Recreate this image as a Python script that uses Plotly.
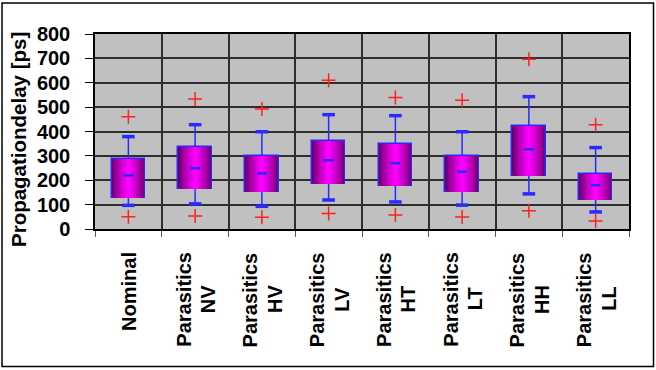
import plotly.graph_objects as go

categories = ["Nominal", "Parasitics<br>NV", "Parasitics<br>HV", "Parasitics<br>LV",
              "Parasitics<br>HT", "Parasitics<br>LT", "Parasitics<br>HH", "Parasitics<br>LL"]
q1 = [127, 164, 152, 186, 178, 152, 219, 119]
median = [220, 249, 228, 282, 270, 235, 327, 180]
q3 = [288, 336, 300, 361, 349, 300, 422, 226]
whisker_lo = [97, 103, 93, 119, 111, 98, 144, 70]
whisker_hi = [379, 428, 399, 469, 465, 399, 543, 334]
outlier_lo = [50, 53, 48, 64, 57, 49, 75, 33]
outlier_hi = [461, 533, 492, 610, 539, 528, 696, 428]
y_title = "Propagationdelay [ps]"

BLUE = "#2a2aff"
FONT = "Liberation Sans, Arial"
fig = go.Figure()

# whisker lines
wx, wy = [], []
for c, lo, a, b, hi in zip(categories, whisker_lo, q1, q3, whisker_hi):
    wx += [c, c, None, c, c, None]
    wy += [lo, a, None, b, hi, None]
fig.add_trace(go.Scatter(x=wx, y=wy, mode="lines", line=dict(color=BLUE, width=1.5),
                         hoverinfo="skip", showlegend=False))

# gradient boxes via nested bars
heights = [b - a for a, b in zip(q1, q3)]
N = 14
for k in range(N):
    t = k / (N - 1)
    r = int(105 + (255 - 105) * (t ** 0.8))
    col = f"rgb({r},0,{r})"
    w = 0.5 * (1 - k / N)
    fig.add_trace(go.Bar(x=categories, y=heights, base=q1, width=w,
                         marker=dict(color=col,
                                     line=dict(color=BLUE if k == 0 else col,
                                               width=1.5 if k == 0 else 0)),
                         hoverinfo="skip", showlegend=False))

# caps
fig.add_trace(go.Scatter(x=categories + categories, y=whisker_lo + whisker_hi, mode="markers",
                         marker=dict(symbol="line-ew", size=9, line=dict(color=BLUE, width=3.5)),
                         hoverinfo="skip", showlegend=False))
# median
fig.add_trace(go.Scatter(x=categories, y=median, mode="markers",
                         marker=dict(symbol="line-ew", size=7, line=dict(color=BLUE, width=2.5)),
                         hoverinfo="skip", showlegend=False))
# outliers
fig.add_trace(go.Scatter(x=categories + categories, y=outlier_lo + outlier_hi, mode="markers",
                         marker=dict(symbol="cross-thin", size=10, line=dict(color="#ff2020", width=1.5)),
                         hoverinfo="skip", showlegend=False))

L, R, T, B = 95, 27, 34, 141
W, H = 656, 370
pw, ph = W - L - R, H - T - B
def px(x):
    return (x - L) / pw
def py(y):
    return (H - B - y) / ph

lab_font = dict(family=FONT, size=20, color="black", weight="bold")
annotations = []
for c in categories:
    lines = c.split("<br>")
    if len(lines) == 1:
        annotations.append(dict(x=c, y=py(250), xref="x", yref="paper", text=lines[0],
                                textangle=-90, xanchor="center", yanchor="top",
                                showarrow=False, font=lab_font))
    else:
        annotations.append(dict(x=c, y=py(250), xref="x", yref="paper", text=lines[0],
                                textangle=-90, xanchor="center", yanchor="top", xshift=-12,
                                showarrow=False, font=lab_font))
        annotations.append(dict(x=c, y=py(299), xref="x", yref="paper", text=lines[1],
                                textangle=-90, xanchor="center", yanchor="middle", xshift=13,
                                showarrow=False, font=lab_font))
annotations.append(dict(x=px(18), y=py(140), xref="paper", yref="paper", text=y_title,
                        textangle=-90, xanchor="center", yanchor="middle", showarrow=False,
                        font=dict(family=FONT, size=20.5, color="black", weight="bold")))

fig.update_layout(
    width=W, height=H,
    margin=dict(l=L, r=R, t=T, b=B, autoexpand=False),
    paper_bgcolor="white", plot_bgcolor="#c0c0c0",
    barmode="overlay", bargap=0,
    font=dict(family=FONT, size=20, color="black"),
    showlegend=False,
    annotations=annotations,
    shapes=[dict(type="rect", xref="paper", yref="paper",
                 x0=px(2), x1=px(653.5), y0=py(366.5), y1=py(3),
                 line=dict(color="black", width=1.5), fillcolor="rgba(0,0,0,0)", layer="above")],
)
fig.update_xaxes(
    type="category", tickson="boundaries", showgrid=True, gridcolor="#2e2e2e", gridwidth=1.5,
    ticks="outside", ticklen=6, tickcolor="#555", automargin=False, showticklabels=False,
    showline=True, linecolor="black", linewidth=1.5, mirror=True,
)
fig.update_yaxes(
    range=[0, 800], dtick=100, showgrid=True, gridcolor="#2e2e2e", gridwidth=1.5,
    ticks="outside", ticklen=8, tickcolor="black", zeroline=False, automargin=False,
    tickfont=dict(family=FONT, size=20, color="black", weight="bold"),
    showline=True, linecolor="black", linewidth=1.5, mirror=True, ticklabelstandoff=11,
)
fig.write_html("out.html", config={"displayModeBar": False},
               post_script="document.body.style.margin='0';document.body.style.overflow='hidden';")
